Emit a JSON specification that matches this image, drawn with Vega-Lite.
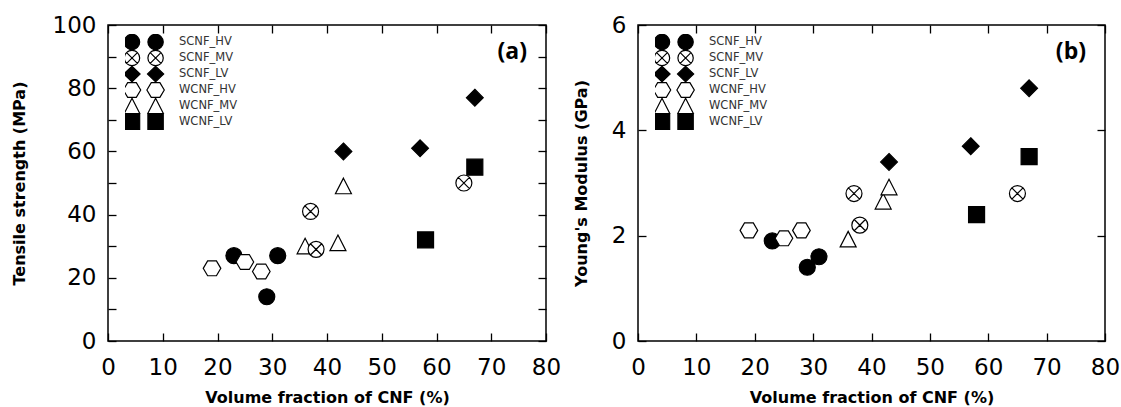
{
  "$schema": "https://vega.github.io/schema/vega-lite/v6.json",
  "background": "white",
  "padding": {"left": 10, "top": 13, "right": 0, "bottom": 0},
  "spacing": 10,
  "datasets": {
    "cnf": [
      {"series": "SCNF_HV", "vf": 23, "ts": 27, "ym": 1.9},
      {"series": "SCNF_HV", "vf": 29, "ts": 14, "ym": 1.4},
      {"series": "SCNF_HV", "vf": 31, "ts": 27, "ym": 1.6},
      {"series": "WCNF_HV", "vf": 19, "ts": 23, "ym": 2.1},
      {"series": "WCNF_HV", "vf": 25, "ts": 25, "ym": 1.95},
      {"series": "WCNF_HV", "vf": 28, "ts": 22, "ym": 2.1},
      {"series": "WCNF_MV", "vf": 36, "ts": 30, "ym": 1.93},
      {"series": "WCNF_MV", "vf": 42, "ts": 31, "ym": 2.65},
      {"series": "WCNF_MV", "vf": 43, "ts": 49, "ym": 2.92},
      {"series": "SCNF_MV", "vf": 37, "ts": 41, "ym": 2.8},
      {"series": "SCNF_MV", "vf": 38, "ts": 29, "ym": 2.2},
      {"series": "SCNF_MV", "vf": 65, "ts": 50, "ym": 2.8},
      {"series": "SCNF_LV", "vf": 43, "ts": 60, "ym": 3.4},
      {"series": "SCNF_LV", "vf": 57, "ts": 61, "ym": 3.7},
      {"series": "SCNF_LV", "vf": 67, "ts": 77, "ym": 4.8},
      {"series": "WCNF_LV", "vf": 58, "ts": 32, "ym": 2.4},
      {"series": "WCNF_LV", "vf": 67, "ts": 55, "ym": 3.5}
    ]
  },
  "resolve": {
    "scale": {"shape": "independent", "fill": "independent"},
    "legend": {"shape": "independent", "fill": "independent"}
  },
  "config": {
    "font": "DejaVu Sans",
    "view": {"stroke": "black", "strokeWidth": 1.5},
    "axis": {
      "domain": false, "grid": false, "ticks": true, "tickSize": -8,
      "tickColor": "black", "tickWidth": 1.3,
      "labelFont": "DejaVu Sans", "labelFontSize": 23, "labelColor": "black",
      "labelFlush": false, "labelOverlap": false,
      "titleFont": "DejaVu Sans", "titleFontWeight": "bold", "titleFontSize": 16, "titleColor": "black"
    },
    "legend": {
      "padding": 0, "labelFont": "DejaVu Sans", "labelFontSize": 11.5, "labelColor": "#333333",
      "orient": "none", "legendX": 17, "legendY": 9, "title": null,
      "symbolSize": 144, "labelOffset": 40, "rowPadding": 0, "clipHeight": 16,
      "symbolStrokeWidth": 1.2, "symbolStrokeColor": "black", "symbolOpacity": 1
    }
  },
  "hconcat": [
    {
      "width": 438, "height": 316,
      "data": {"name": "cnf"},
      "title": {"text": "(a)", "orient": "top", "anchor": "end", "frame": "group", "dy": 54, "dx": -19, "font": "Open Sans", "fontSize": 23, "fontWeight": "bold", "color": "black"},
      "layer": [
        {
          "mark": {"type": "point", "filled": true, "size": 256, "stroke": "black", "strokeWidth": 1.2, "opacity": 1},
          "encoding": {
            "x": {"field": "vf", "type": "quantitative", "scale": {"domain": [0, 80], "nice": false},
              "axis": {"orient": "bottom", "values": [0, 10, 20, 30, 40, 50, 60, 70, 80], "labelPadding": 23, "title": "Volume fraction of CNF (%)", "titlePadding": 10}},
            "y": {"field": "ts", "type": "quantitative", "scale": {"domain": [0, 100], "nice": false},
              "axis": {"orient": "left", "values": [0, 10, 20, 30, 40, 50, 60, 70, 80, 90, 100], "labelExpr": "datum.value % 20 === 0 ? datum.label : ''", "labelPadding": 20, "title": "Tensile strength (MPa)", "titlePadding": 25}},
            "shape": {"field": "series", "type": "nominal",
              "scale": {"domain": ["SCNF_HV", "SCNF_MV", "SCNF_LV", "WCNF_HV", "WCNF_MV", "WCNF_LV"],
                "range": [
                  "M -1 0 A 1 1 0 1 1 1 0 A 1 1 0 1 1 -1 0 Z",
                  "M -1 0 A 1 1 0 1 1 1 0 A 1 1 0 1 1 -1 0 Z M -0.7 -0.7 L 0.7 0.7 M -0.7 0.7 L 0.7 -0.7",
                  "M 0 -1.05 L 1.05 0 L 0 1.05 L -1.05 0 Z",
                  "M -1.1 0 L -0.55 -0.93 L 0.55 -0.93 L 1.1 0 L 0.55 0.93 L -0.55 0.93 Z",
                  "M 0 -1 L 1 0.95 L -1 0.95 Z",
                  "M -1 -1 L 1 -1 L 1 1 L -1 1 Z"
                ]},
              "legend": null},
            "fill": {"field": "series", "type": "nominal",
              "scale": {"domain": ["SCNF_HV", "SCNF_MV", "SCNF_LV", "WCNF_HV", "WCNF_MV", "WCNF_LV"], "range": ["black", "white", "black", "white", "white", "black"]},
              "legend": null}
          }
        },
        {
          "transform": [{"filter": "false"}],
          "mark": {"type": "point", "filled": true, "size": 144, "stroke": "black", "strokeWidth": 1.2, "opacity": 1},
          "encoding": {
            "x": {"field": "vf", "type": "quantitative", "scale": {"domain": [0, 80], "nice": false},
              "axis": {"orient": "top", "values": [0, 10, 20, 30, 40, 50, 60, 70, 80], "labels": false, "title": null}},
            "y": {"field": "ts", "type": "quantitative", "scale": {"domain": [0, 100], "nice": false},
              "axis": {"orient": "right", "values": [0, 10, 20, 30, 40, 50, 60, 70, 80, 90, 100], "labels": false, "title": null}},
            "shape": {"field": "series", "type": "nominal",
              "scale": {"domain": ["SCNF_HV", "SCNF_MV", "SCNF_LV", "WCNF_HV", "WCNF_MV", "WCNF_LV"],
                "range": [
                  "M -1.28 0 A 1.28 1.28 0 1 1 1.28 0 A 1.28 1.28 0 1 1 -1.28 0 Z M 2.65 0 A 1.28 1.28 0 1 1 5.21 0 A 1.28 1.28 0 1 1 2.65 0 Z",
                  "M -1.28 0 A 1.28 1.28 0 1 1 1.28 0 A 1.28 1.28 0 1 1 -1.28 0 Z M -0.9 -0.9 L 0.9 0.9 M -0.9 0.9 L 0.9 -0.9 M 2.65 0 A 1.28 1.28 0 1 1 5.21 0 A 1.28 1.28 0 1 1 2.65 0 Z M 3.03 -0.9 L 4.83 0.9 M 3.03 0.9 L 4.83 -0.9",
                  "M 0 -1.3 L 1.35 0 L 0 1.3 L -1.35 0 Z M 3.93 -1.3 L 5.28 0 L 3.93 1.3 L 2.58 0 Z",
                  "M -1.45 0 L -0.72 -1.22 L 0.72 -1.22 L 1.45 0 L 0.72 1.22 L -0.72 1.22 Z M 2.48 0 L 3.21 -1.22 L 4.65 -1.22 L 5.38 0 L 4.65 1.22 L 3.21 1.22 Z",
                  "M 0 -1.28 L 1.3 1.25 L -1.3 1.25 Z M 3.93 -1.28 L 5.23 1.25 L 2.63 1.25 Z",
                  "M -1.28 -1.28 L 1.28 -1.28 L 1.28 1.28 L -1.28 1.28 Z M 2.65 -1.28 L 5.21 -1.28 L 5.21 1.28 L 2.65 1.28 Z"
                ]},
              "legend": {"encode": {"entries": {"update": {"clip": {"value": false}}}, "symbols": {"update": {"stroke": {"value": "black"}, "strokeWidth": {"value": 1.2}}}}}},
            "fill": {"field": "series", "type": "nominal",
              "scale": {"domain": ["SCNF_HV", "SCNF_MV", "SCNF_LV", "WCNF_HV", "WCNF_MV", "WCNF_LV"], "range": ["black", "white", "black", "white", "white", "black"]},
              "legend": {"encode": {"entries": {"update": {"clip": {"value": false}}}, "symbols": {"update": {"stroke": {"value": "black"}, "strokeWidth": {"value": 1.2}}}}}}
          }
        }
      ],
      "resolve": {
        "axis": {"x": "independent", "y": "independent"},
        "scale": {"shape": "independent", "fill": "independent"},
        "legend": {"shape": "independent", "fill": "independent"}
      }
    },
    {
      "width": 467, "height": 316,
      "data": {"name": "cnf"},
      "title": {"text": "(b)", "orient": "top", "anchor": "end", "frame": "group", "dy": 54, "dx": -19, "font": "Open Sans", "fontSize": 23, "fontWeight": "bold", "color": "black"},
      "layer": [
        {
          "mark": {"type": "point", "filled": true, "size": 256, "stroke": "black", "strokeWidth": 1.2, "opacity": 1},
          "encoding": {
            "x": {"field": "vf", "type": "quantitative", "scale": {"domain": [0, 80], "nice": false},
              "axis": {"orient": "bottom", "values": [0, 10, 20, 30, 40, 50, 60, 70, 80], "labelPadding": 23, "title": "Volume fraction of CNF (%)", "titlePadding": 10}},
            "y": {"field": "ym", "type": "quantitative", "scale": {"domain": [0, 6], "nice": false},
              "axis": {"orient": "left", "values": [0, 2, 4, 6], "labelPadding": 20, "title": "Young's Modulus (GPa)", "titlePadding": 22}},
            "shape": {"field": "series", "type": "nominal",
              "scale": {"domain": ["SCNF_HV", "SCNF_MV", "SCNF_LV", "WCNF_HV", "WCNF_MV", "WCNF_LV"],
                "range": [
                  "M -1 0 A 1 1 0 1 1 1 0 A 1 1 0 1 1 -1 0 Z",
                  "M -1 0 A 1 1 0 1 1 1 0 A 1 1 0 1 1 -1 0 Z M -0.7 -0.7 L 0.7 0.7 M -0.7 0.7 L 0.7 -0.7",
                  "M 0 -1.05 L 1.05 0 L 0 1.05 L -1.05 0 Z",
                  "M -1.1 0 L -0.55 -0.93 L 0.55 -0.93 L 1.1 0 L 0.55 0.93 L -0.55 0.93 Z",
                  "M 0 -1 L 1 0.95 L -1 0.95 Z",
                  "M -1 -1 L 1 -1 L 1 1 L -1 1 Z"
                ]},
              "legend": null},
            "fill": {"field": "series", "type": "nominal",
              "scale": {"domain": ["SCNF_HV", "SCNF_MV", "SCNF_LV", "WCNF_HV", "WCNF_MV", "WCNF_LV"], "range": ["black", "white", "black", "white", "white", "black"]},
              "legend": null}
          }
        },
        {
          "transform": [{"filter": "false"}],
          "mark": {"type": "point", "filled": true, "size": 144, "stroke": "black", "strokeWidth": 1.2, "opacity": 1},
          "encoding": {
            "x": {"field": "vf", "type": "quantitative", "scale": {"domain": [0, 80], "nice": false},
              "axis": {"orient": "top", "values": [0, 10, 20, 30, 40, 50, 60, 70, 80], "labels": false, "title": null}},
            "y": {"field": "ym", "type": "quantitative", "scale": {"domain": [0, 6], "nice": false},
              "axis": {"orient": "right", "values": [0, 2, 4, 6], "labels": false, "title": null}},
            "shape": {"field": "series", "type": "nominal",
              "scale": {"domain": ["SCNF_HV", "SCNF_MV", "SCNF_LV", "WCNF_HV", "WCNF_MV", "WCNF_LV"],
                "range": [
                  "M -1.28 0 A 1.28 1.28 0 1 1 1.28 0 A 1.28 1.28 0 1 1 -1.28 0 Z M 2.65 0 A 1.28 1.28 0 1 1 5.21 0 A 1.28 1.28 0 1 1 2.65 0 Z",
                  "M -1.28 0 A 1.28 1.28 0 1 1 1.28 0 A 1.28 1.28 0 1 1 -1.28 0 Z M -0.9 -0.9 L 0.9 0.9 M -0.9 0.9 L 0.9 -0.9 M 2.65 0 A 1.28 1.28 0 1 1 5.21 0 A 1.28 1.28 0 1 1 2.65 0 Z M 3.03 -0.9 L 4.83 0.9 M 3.03 0.9 L 4.83 -0.9",
                  "M 0 -1.3 L 1.35 0 L 0 1.3 L -1.35 0 Z M 3.93 -1.3 L 5.28 0 L 3.93 1.3 L 2.58 0 Z",
                  "M -1.45 0 L -0.72 -1.22 L 0.72 -1.22 L 1.45 0 L 0.72 1.22 L -0.72 1.22 Z M 2.48 0 L 3.21 -1.22 L 4.65 -1.22 L 5.38 0 L 4.65 1.22 L 3.21 1.22 Z",
                  "M 0 -1.28 L 1.3 1.25 L -1.3 1.25 Z M 3.93 -1.28 L 5.23 1.25 L 2.63 1.25 Z",
                  "M -1.28 -1.28 L 1.28 -1.28 L 1.28 1.28 L -1.28 1.28 Z M 2.65 -1.28 L 5.21 -1.28 L 5.21 1.28 L 2.65 1.28 Z"
                ]},
              "legend": {"encode": {"entries": {"update": {"clip": {"value": false}}}, "symbols": {"update": {"stroke": {"value": "black"}, "strokeWidth": {"value": 1.2}}}}}},
            "fill": {"field": "series", "type": "nominal",
              "scale": {"domain": ["SCNF_HV", "SCNF_MV", "SCNF_LV", "WCNF_HV", "WCNF_MV", "WCNF_LV"], "range": ["black", "white", "black", "white", "white", "black"]},
              "legend": {"encode": {"entries": {"update": {"clip": {"value": false}}}, "symbols": {"update": {"stroke": {"value": "black"}, "strokeWidth": {"value": 1.2}}}}}}
          }
        }
      ],
      "resolve": {
        "axis": {"x": "independent", "y": "independent"},
        "scale": {"shape": "independent", "fill": "independent"},
        "legend": {"shape": "independent", "fill": "independent"}
      }
    }
  ]
}
